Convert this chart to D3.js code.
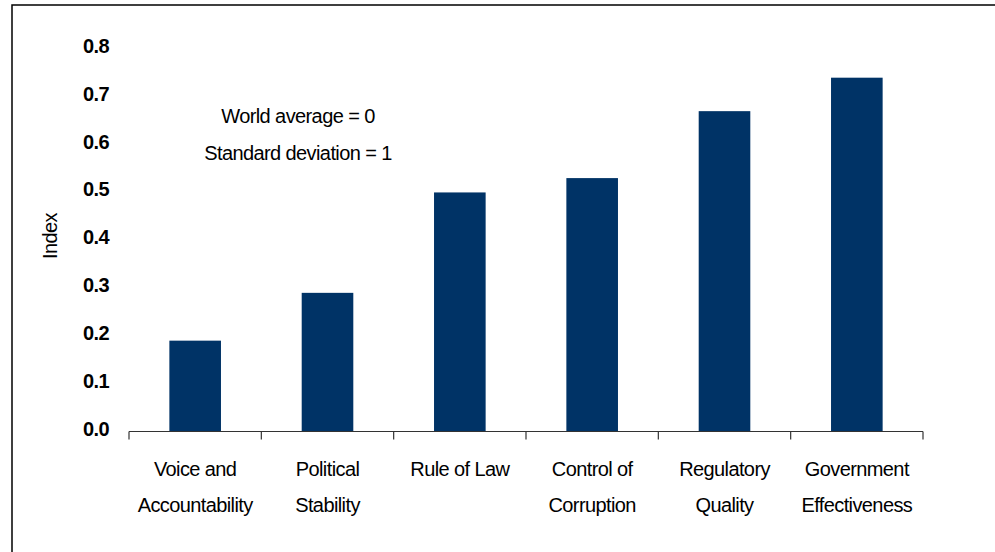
<!DOCTYPE html>
<html>
<head>
<meta charset="utf-8">
<script src="https://cdn.jsdelivr.net/npm/d3@7"></script>
<style>
  body { margin: 0; background: #fff; }
  svg text { font-family: "Liberation Sans Narrow", "Arial Narrow", "Liberation Sans", Arial, sans-serif; fill: #000; letter-spacing: -0.6px; }
</style>
</head>
<body>
<div id="chart"></div>
<script>
var categories = [
  ["Voice and", "Accountability"],
  ["Political", "Stability"],
  ["Rule of Law"],
  ["Control of", "Corruption"],
  ["Regulatory", "Quality"],
  ["Government", "Effectiveness"]
];
var values = [0.19, 0.29, 0.50, 0.53, 0.67, 0.74];
var yTicks = [0, 0.1, 0.2, 0.3, 0.4, 0.5, 0.6, 0.7, 0.8];
var notes = ["World average = 0", "Standard deviation = 1"];

var width = 995, height = 552;
var plotLeft = 129, plotRight = 923, plotBottom = 431.5, plotTop = 49;

var svg = d3.select("#chart").append("svg")
  .attr("width", width)
  .attr("height", height);

// outer frame
svg.append("rect")
  .attr("x", 12).attr("y", 5)
  .attr("width", 1000).attr("height", 600)
  .attr("fill", "none")
  .attr("stroke", "#000")
  .attr("stroke-width", 1.5);

var x = d3.scaleBand()
  .domain(d3.range(categories.length))
  .range([plotLeft, plotRight])
  .paddingInner(0).paddingOuter(0);

var y = d3.scaleLinear().domain([0, 0.8]).range([plotBottom, plotTop]);

var barW = x.bandwidth() * 0.39;

svg.selectAll(".bar")
  .data(values)
  .enter().append("rect")
  .attr("class", "bar")
  .attr("x", function (d, i) { return x(i) + (x.bandwidth() - barW) / 2; })
  .attr("y", function (d) { return y(d); })
  .attr("width", barW)
  .attr("height", function (d) { return y(0) - y(d); })
  .attr("fill", "#003366");

// x axis line with ticks at band edges
var xAxis = svg.append("g");
xAxis.append("line")
  .attr("x1", plotLeft).attr("x2", plotRight)
  .attr("y1", y(0)).attr("y2", y(0))
  .attr("stroke", "#333").attr("stroke-width", 1.2);
var edges = d3.range(categories.length + 1).map(function (i) {
  return i < categories.length ? x(i) : plotRight;
});
xAxis.selectAll(".tk")
  .data(edges)
  .enter().append("line")
  .attr("x1", function (d) { return d; })
  .attr("x2", function (d) { return d; })
  .attr("y1", y(0)).attr("y2", y(0) + 8)
  .attr("stroke", "#333").attr("stroke-width", 1.2);

// category labels
var labels = svg.selectAll(".cat")
  .data(categories)
  .enter().append("text")
  .attr("class", "cat")
  .attr("text-anchor", "middle")
  .style("font-size", "20px");
labels.each(function (lines, i) {
  var t = d3.select(this);
  lines.forEach(function (s, j) {
    t.append("tspan")
      .attr("x", x(i) + x.bandwidth() / 2)
      .attr("y", 476 + j * 36)
      .text(s);
  });
});

// y tick labels
svg.selectAll(".ytl")
  .data(yTicks)
  .enter().append("text")
  .attr("class", "ytl")
  .attr("x", 109)
  .attr("y", function (d) { return y(d) + 4; })
  .attr("text-anchor", "end")
  .style("font-size", "20px")
  .style("font-weight", "bold")
  .text(function (d) { return d3.format(".1f")(d); });

// y axis title
svg.append("text")
  .attr("transform", "translate(57,236) rotate(-90)")
  .attr("text-anchor", "middle")
  .style("font-size", "20px")
  .text("Index");

// annotation
svg.selectAll(".note")
  .data(notes)
  .enter().append("text")
  .attr("class", "note")
  .attr("x", 298)
  .attr("y", function (d, i) { return 123 + i * 37; })
  .attr("text-anchor", "middle")
  .style("font-size", "20px")
  .text(function (d) { return d; });
</script>
</body>
</html>
